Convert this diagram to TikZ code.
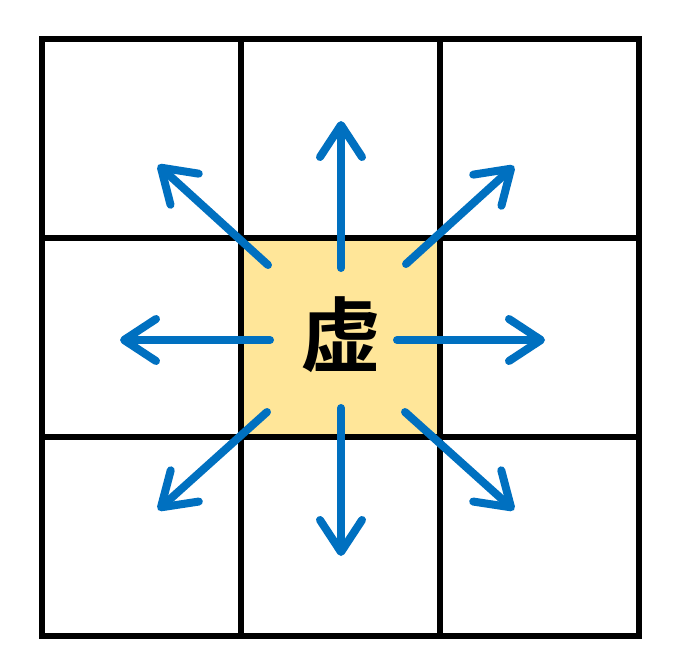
\documentclass[tikz,border=0pt]{standalone}
\usepackage{fontspec}
\newfontfamily\cjkbold{Noto Sans CJK SC Bold}
\usetikzlibrary{arrows.meta}
\definecolor{arrblue}{HTML}{0070C0}
\definecolor{cellyellow}{HTML}{FFE699}
\tikzset{
  gridline/.style={line width=5.5pt, black},
  ray/.style={line width=8pt, arrblue, line cap=round,
    -{Straight Barb[length=32pt, width=42pt, round]}},
}
\begin{document}
\begin{tikzpicture}[x=1pt, y=-1pt]
\useasboundingbox (0,0) rectangle (685,670);
\fill[white] (0,0) rectangle (685,670);
\fill[cellyellow] (241,238) rectangle (440,437);
% grid
\draw[gridline] (42,39) rectangle (639,636);
\draw[gridline] (241,39) -- (241,636);
\draw[gridline] (440,39) -- (440,636);
\draw[gridline] (42,238) -- (639,238);
\draw[gridline] (42,437) -- (639,437);
% center node
\node[inner sep=0pt, font=\cjkbold\fontsize{81}{81}\selectfont] (c) at (341,335) {虚};
% arrow coordinates
\coordinate (sU) at (341,268);  \coordinate (eU) at (341,121);
\coordinate (sD) at (341,408);  \coordinate (eD) at (341,556);
\coordinate (sL) at (270,340);  \coordinate (eL) at (120,340);
\coordinate (sR) at (397,340);  \coordinate (eR) at (545,340);
\coordinate (sUL) at (268,265); \coordinate (eUL) at (158,165);
\coordinate (sUR) at (406,264); \coordinate (eUR) at (514,166);
\coordinate (sDL) at (267,412); \coordinate (eDL) at (158,510);
\coordinate (sDR) at (405,412); \coordinate (eDR) at (514,510);
\foreach \d in {U,D,L,R,UL,UR,DL,DR}{
  \draw[ray] (s\d) -- (e\d);
}
\end{tikzpicture}
\end{document}
